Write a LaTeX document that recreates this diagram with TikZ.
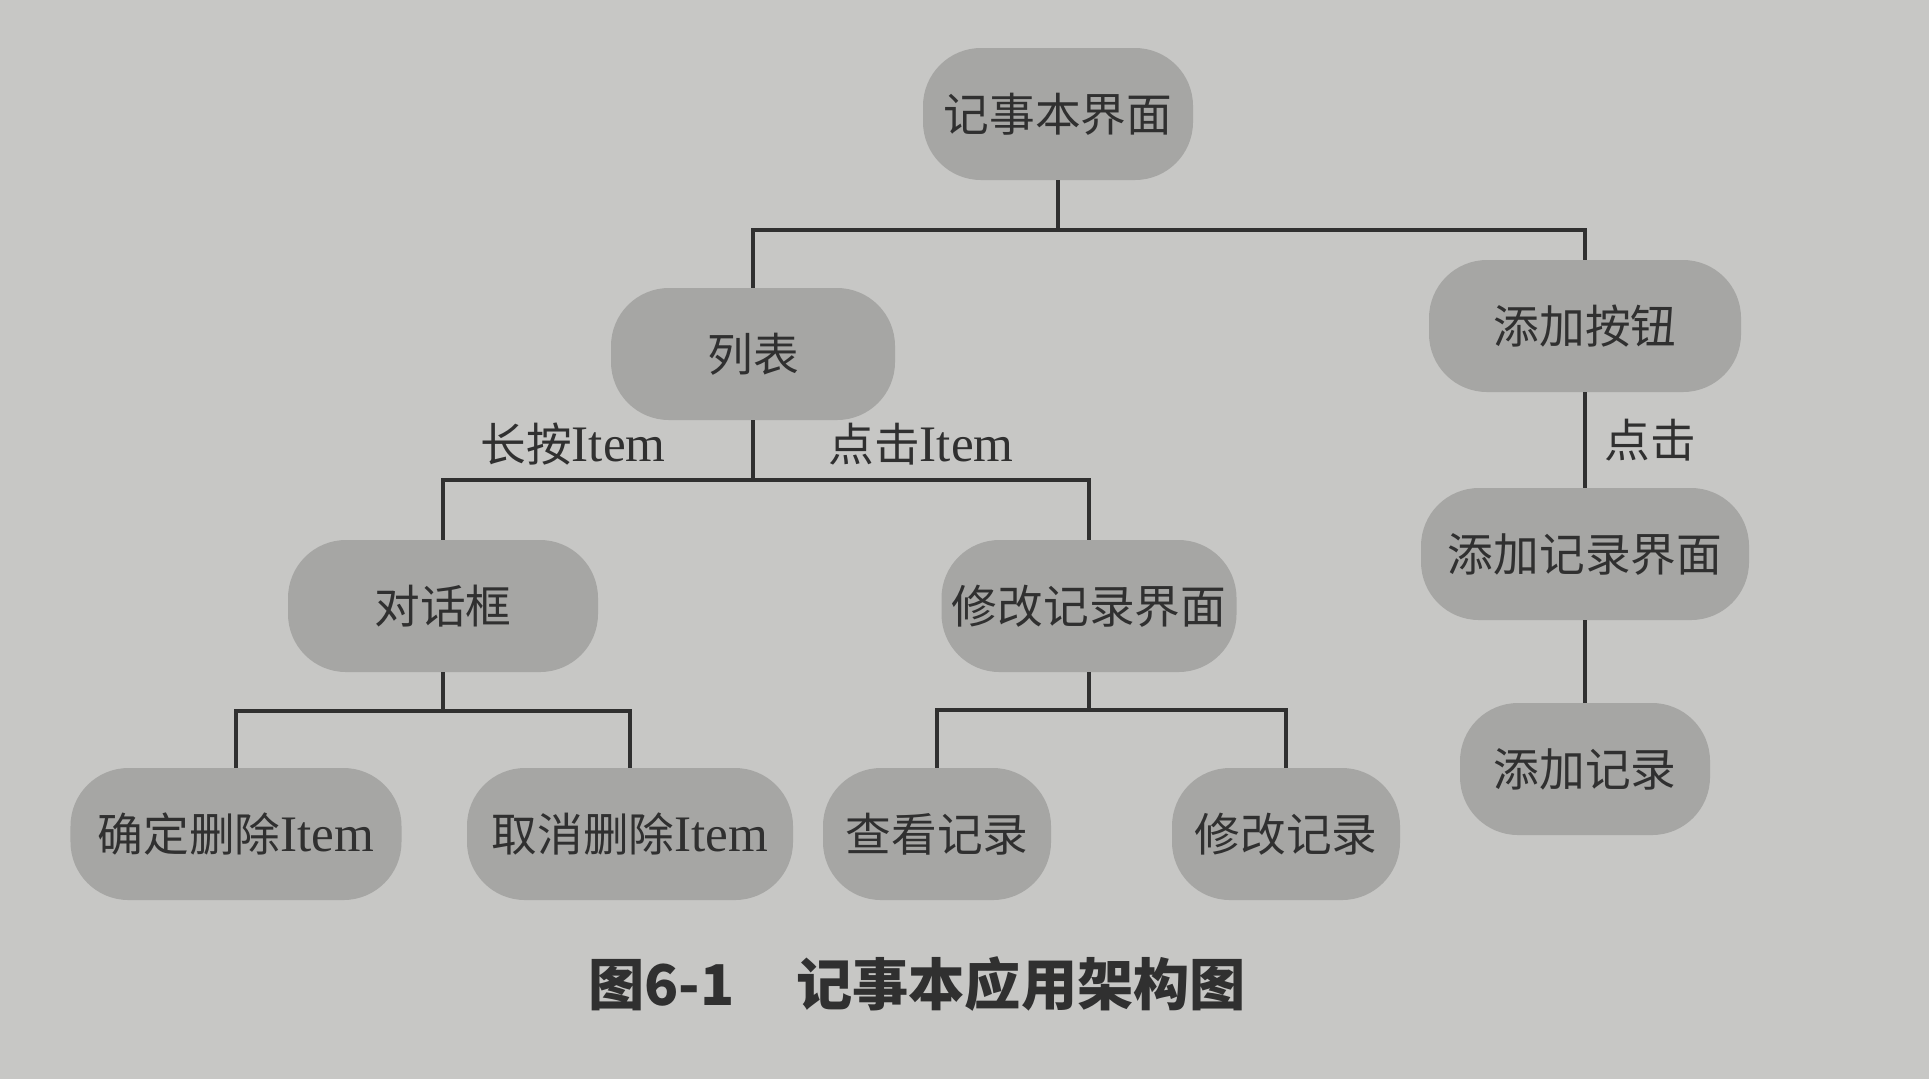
\documentclass[tikz,border=0pt]{standalone}
\usepackage{fontspec}
\setmainfont[Scale=1.12]{Liberation Serif}
\newfontfamily\cjk{Noto Sans CJK SC}
\usetikzlibrary{positioning}
\definecolor{pagegray}{RGB}{199,199,197}
\definecolor{nodegray}{RGB}{166,166,164}
\definecolor{inkgray}{RGB}{48,48,48}
\newcommand{\uinode}[4]{\node[uibox, minimum width=#3cm, #4] (#1) {#2};}
\newcommand{\uistem}[3]{\draw [link] (#1.south) -- ++(0,-#3) coordinate (#2);}
\newcommand{\uilink}[4]{\draw [link, #4] (#1) -| node[tag, pos=0.25, above] {#3} (#2.north);}

\begin{document}
\begin{tikzpicture}[uibox/.style={fill=nodegray, rounded corners=0.58cm, minimum height=1.32cm, inner sep=2pt, outer sep=0pt, text=inkgray, font=\fontsize{13}{15}\selectfont\cjk},
  link/.style={line width=0.9pt, draw=inkgray},
  tag/.style={text=inkgray, font=\fontsize{13}{15}\selectfont\cjk}]

\fill[pagegray] (0,0) rectangle (19.29,-10.79);
\useasboundingbox (0,0) rectangle (19.29,-10.79);

\uinode{root}{记事本界面}{2.7}{at={(10.58,-1.14)}};
\uinode{list}{列表}{2.84}{below = 1.08 of root, xshift=-3.05cm};
\uinode{addbtn}{添加按钮}{3.12}{below = 0.80 of root, xshift=5.27cm};
\uinode{addui}{添加记录界面}{3.28}{below = 0.96 of addbtn};
\uinode{addrec}{添加记录}{2.5}{below = 0.83 of addui};

\uinode{dialog}{对话框}{3.1}{below = 1.2 of list, xshift=-3.1cm};
\uinode{editui}{修改记录界面}{2.95}{below = 1.2 of list, xshift=3.36cm};

\uinode{okdel}{确定删除\textrm{Item}}{3.31}{below = 0.96 of dialog, xshift=-2.07cm};
\uinode{canceldel}{取消删除\textrm{Item}}{3.26}{below = 0.96 of dialog, xshift=1.87cm};
\uinode{view}{查看记录}{2.28}{below = 0.96 of editui, xshift=-1.52cm};
\uinode{edit}{修改记录}{2.28}{below = 0.96 of editui, xshift=1.97cm};

% tree connectors
\uistem{root}{rootbar}{0.5};
\uilink{rootbar}{list}{}{};
\uilink{rootbar}{addbtn}{}{};

\uistem{list}{listbar}{0.6};
\uilink{listbar}{dialog}{长按\textrm{Item}}{every node/.append style={xshift=-0.25cm}};
\uilink{listbar}{editui}{点击\textrm{Item}}{};

\uistem{dialog}{dialogbar}{0.39};
\uilink{dialogbar}{okdel}{}{};
\uilink{dialogbar}{canceldel}{}{};

\uistem{editui}{editbar}{0.38};
\uilink{editbar}{view}{}{};
\uilink{editbar}{edit}{}{};

\draw [link] (addbtn) -- node[tag, right, xshift=0.05cm] {点击} (addui);
\draw [link] (addui) -- (addrec);

\node[text=inkgray, font=\fontsize{16}{18}\selectfont\cjk\bfseries] (caption) at (9.17,-9.84) {图6-1\hspace{1.1em}记事本应用架构图};
\end{tikzpicture}
\end{document}
